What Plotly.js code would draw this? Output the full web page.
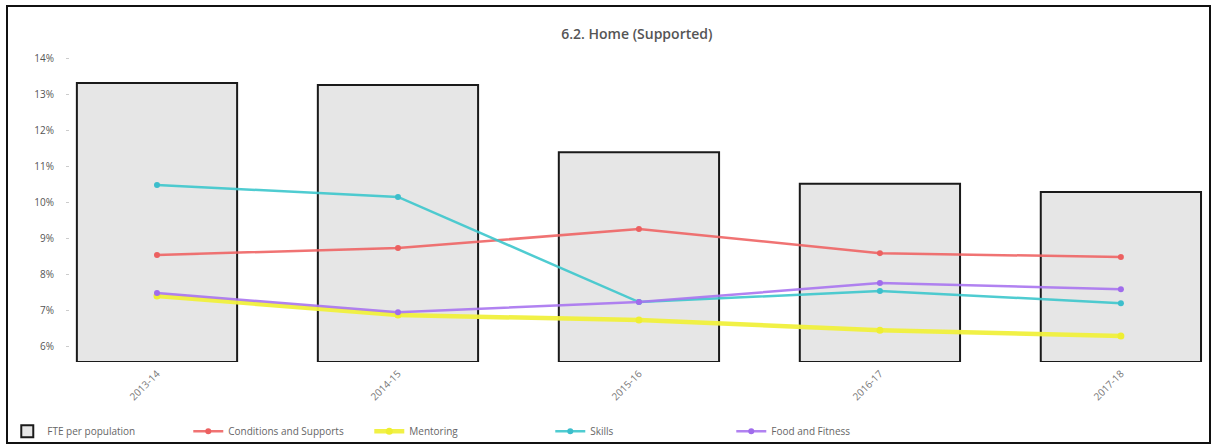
<!DOCTYPE html>
<html>
<head>
<meta charset="utf-8">
<script src="https://cdn.plot.ly/plotly-3.0.1.min.js"></script>
<style>
  html, body { margin:0; padding:0; background:#fff; }
  #chart { position:absolute; left:0; top:0; width:1213px; height:447px; }
  #frame { position:absolute; left:6px; top:5px; width:1205px; height:439px; box-sizing:border-box; border:2px solid #111; pointer-events:none; }
</style>
</head>
<body>
<div id="chart"></div>
<div id="frame"></div>
<script>
const categories = ["2013-14", "2014-15", "2015-16", "2016-17", "2017-18"];
const barValues = [8.80, 8.74, 6.62, 5.62, 5.36];
const conditionsSupports = [0.0853, 0.0872, 0.0925, 0.0858, 0.0847];
const mentoring = [0.0739, 0.0686, 0.0672, 0.0644, 0.0628];
const skills = [0.1047, 0.1014, 0.0722, 0.0753, 0.0719];
const foodFitness = [0.0747, 0.0694, 0.0722, 0.0775, 0.0758];
const seriesNames = ["FTE per population", "Conditions and Supports", "Mentoring", "Skills", "Food and Fitness"];
const yTickVals = [0.06, 0.07, 0.08, 0.09, 0.10, 0.11, 0.12, 0.13, 0.14];

const lineStyle = (color, w) => ({ color: color, width: w });
const traces = [
  { type: 'bar', x: categories, y: barValues, name: seriesNames[0], yaxis: 'y',
    marker: { color: '#e6e6e6', line: { color: '#1a1a1a', width: 2 } } },
  { type: 'scatter', mode: 'lines+markers', x: categories, y: conditionsSupports, name: seriesNames[1], yaxis: 'y2',
    line: lineStyle('rgba(238,100,100,0.9)', 2.5), marker: { size: 6, color: 'rgb(236,96,96)' } },
  { type: 'scatter', mode: 'lines+markers', x: categories, y: mentoring, name: seriesNames[2], yaxis: 'y2',
    line: lineStyle('rgba(240,240,60,0.95)', 4.5), marker: { size: 7, color: 'rgb(238,238,50)' } },
  { type: 'scatter', mode: 'lines+markers', x: categories, y: skills, name: seriesNames[3], yaxis: 'y2',
    line: lineStyle('rgba(60,198,204,0.9)', 2.5), marker: { size: 6, color: 'rgb(60,190,204)' } },
  { type: 'scatter', mode: 'lines+markers', x: categories, y: foodFitness, name: seriesNames[4], yaxis: 'y2',
    line: lineStyle('rgba(168,116,240,0.9)', 2.5), marker: { size: 6, color: 'rgb(160,108,236)' } }
];

const layout = {
  width: 1213, height: 447,
  margin: { l: 70, r: 8, t: 45, b: 85 },
  paper_bgcolor: '#fff', plot_bgcolor: '#fff',
  font: { family: 'Open Sans, sans-serif', color: '#555', size: 10 },
  title: { text: '6.2. Home (Supported)', x: 0.525, xref: 'container', y: 0.935, yref: 'container',
           font: { family: 'Open Sans, sans-serif', size: 14, color: '#555', weight: 600 } },
  bargap: 0.335,
  showlegend: true,
  legend: { orientation: 'h', xref: 'container', yref: 'container', x: 0.006, y: 0.035, yanchor: 'middle', xanchor: 'left',
            entrywidth: 136, font: { size: 10, color: '#666' }, traceorder: 'normal' },
  xaxis: { type: 'category', range: [-0.361, 4.349], showline: false, showgrid: false, zeroline: false,
           tickangle: -45, ticks: '', ticklabelstandoff: 3, tickfont: { size: 10, color: '#777' } },
  yaxis: { range: [0, 10], visible: false, showgrid: false, zeroline: false, fixedrange: true },
  yaxis2: { overlaying: 'y', side: 'left', range: [0.05556, 0.14361], tickvals: yTickVals, tickformat: '.0%',
            showgrid: false, zeroline: false, showline: false, ticks: 'outside', ticklen: 3, tickcolor: '#ccc',
            ticklabelstandoff: 10, tickfont: { size: 10, color: '#555' } }
};

Plotly.newPlot('chart', traces, layout, { displayModeBar: false, staticPlot: true });
</script>
</body>
</html>
